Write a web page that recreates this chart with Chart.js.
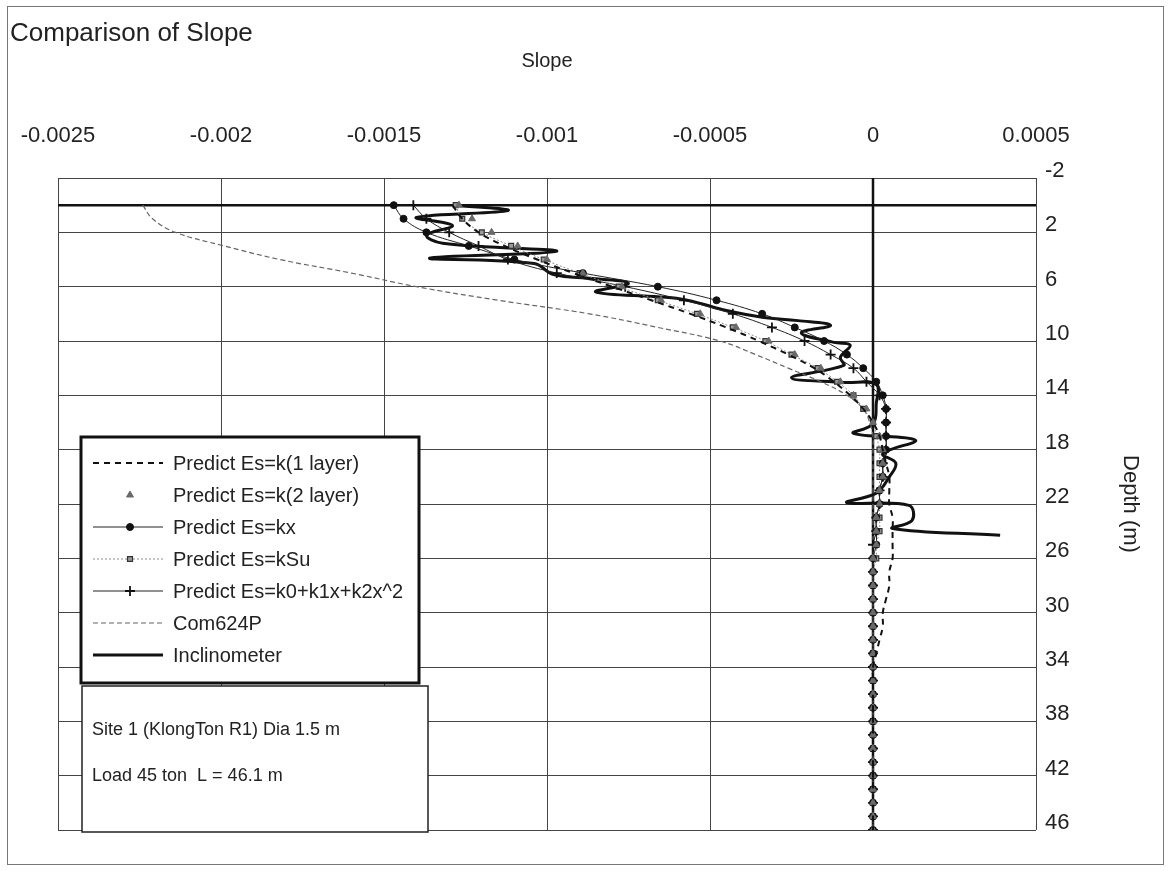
<!DOCTYPE html>
<html>
<head>
<meta charset="utf-8">
<script src="https://cdn.jsdelivr.net/npm/chart.js@4.4.1/dist/chart.umd.min.js"></script>
<style>
  html, body { margin: 0; padding: 0; background: #ffffff; }
  #wrap { position: relative; width: 1169px; height: 871px; }
</style>
</head>
<body>
<div id="wrap"><canvas id="c"></canvas></div>
<script>
// ---------- DATA ----------
const chartTitle = 'Comparison of Slope';
const xAxisTitle = 'Slope';
const yAxisTitle = 'Depth (m)';
const xTickValues = [-0.0025, -0.002, -0.0015, -0.001, -0.0005, 0, 0.0005];
const xTickLabels = ['-0.0025', '-0.002', '-0.0015', '-0.001', '-0.0005', '0', '0.0005'];
const yTickValues = [-2, 2, 6, 10, 14, 18, 22, 26, 30, 34, 38, 42, 46];
const yTickLabels = ['-2', '2', '6', '10', '14', '18', '22', '26', '30', '34', '38', '42', '46'];
const infoLines = ['Site 1 (KlongTon R1) Dia 1.5 m', 'Load 45 ton  L = 46.1 m'];

const seriesNames = [
  'Predict Es=k(1 layer)',
  'Predict Es=k(2 layer)',
  'Predict Es=kx',
  'Predict Es=kSu',
  'Predict Es=k0+k1x+k2x^2',
  'Com624P',
  'Inclinometer'
];

// depth (m) of predicted values
const depths = [0,1,2,3,4,5,6,7,8,9,10,11,12,13,14,15,16,17,18,19,20,21,22,23,24,25,26,27,28,29,30,31,32,33,34,35,36,37,38,39,40,41,42,43,44,45,46];

const slopeK1Layer = [
  -0.00129,-0.00126,-0.00121,-0.00113,-0.00103,-0.00092,-0.00080,-0.00068,-0.00056,-0.00045,
  -0.00035,-0.00026,-0.00018,-0.00012,-0.00007,-0.00003,0.00000,0.00002,0.00003,0.00004,
  0.00005,0.00005,0.00005,0.00006,0.00006,0.00006,0.00006,0.00005,0.00005,0.00004,
  0.00003,0.00003,0.00002,0.00001,0,0,0,0,0,0,
  0,0,0,0,0,0,0];
const slopeK2Layer = [
  -0.00127,-0.00123,-0.00117,-0.00109,-0.00100,-0.00089,-0.00077,-0.00065,-0.00053,-0.00042,
  -0.00032,-0.00024,-0.00016,-0.00010,-0.00006,-0.00002,0.00000,0.00002,0.00003,0.00003,
  0.00003,0.00002,0.00002,0.00001,0.00001,0.00001,0,0,0,0,
  0,0,0,0,0,0,0,0,0,0,
  0,0,0,0,0,0,0];
const slopeKx = [
  -0.00147,-0.00144,-0.00137,-0.00124,-0.00110,-0.00089,-0.00066,-0.00048,-0.00034,-0.00024,
  -0.00015,-0.00008,-0.00003,0.00001,0.00003,0.00004,0.00004,0.00004,0.00004,0.00003,
  0.00003,0.00002,0.00002,0.00001,0.00001,0.00001,0,0,0,0,
  0,0,0,0,0,0,0,0,0,0,
  0,0,0,0,0,0,0];
const slopeKSu = [
  -0.00128,-0.00126,-0.00120,-0.00111,-0.00101,-0.00090,-0.00078,-0.00066,-0.00054,-0.00043,
  -0.00033,-0.00025,-0.00017,-0.00011,-0.00006,-0.00003,0.00000,0.00001,0.00002,0.00002,
  0.00002,0.00002,0.00002,0.00002,0.00002,0.00001,0.00001,0,0,0,
  0,0,0,0,0,0,0,0,0,0,
  0,0,0,0,0,0,0];
const slopeKPoly = [
  -0.00141,-0.00137,-0.00130,-0.00121,-0.00112,-0.00097,-0.00076,-0.00058,-0.00043,-0.00031,
  -0.00021,-0.00013,-0.00006,-0.00002,0.00002,0.00004,0.00004,0.00004,0.00004,0.00003,
  0.00003,0.00002,0.00002,0.00001,0.00001,0,0,0,0,0,
  0,0,0,0,0,0,0,0,0,0,
  0,0,0,0,0,0,0];
const slopeCom624P = [
  -0.00224,-0.00221,-0.00214,-0.00199,-0.00182,-0.00160,-0.00140,-0.00115,-0.00087,-0.00066,
  -0.00047,-0.00036,-0.00026,-0.00016,-0.00008,-0.00003,-0.00001,0,0,0,
  0,0,0,0,0,0,0,0,0,0,
  0,0,0,0,0,0,0,0,0,0,
  0,0,0,0,0,0,0];

// Inclinometer measurement (its own depths)
const inclDepth = [0.0,0.4,0.9,1.5,2.2,2.8,3.4,3.9,4.3,5.1,5.4,5.75,6.4,6.9,7.7,8.25,8.5,8.85,9.4,10.1,10.3,11.2,11.8,12.7,13.05,13.2,14.6,16.1,16.8,17.3,18.3,19.0,20.0,21.2,21.9,22.1,23.2,23.8,24.3];
const inclSlope = [-0.00128,-0.00112,-0.00140,-0.00129,-0.00137,-0.00132,-0.00097,-0.00136,-0.00104,-0.00098,-0.00086,-0.00075,-0.00085,-0.00059,-0.00046,-0.00034,-0.00023,-0.00013,-0.00022,-0.00012,-0.00007,-0.00010,-0.00009,-0.00025,-0.00009,0.00001,0.00001,0.00000,-0.00006,0.00013,0.00003,0.00007,0.00005,0.00001,-0.00008,0.00011,0.00012,0.00006,0.00039];

// ---------- BUILD ----------
const pts = (xs, ys) => xs.map((v, i) => ({x: v, y: ys[i]}));
const labelFor = (vals, labels, v) => {
  const i = vals.findIndex(t => Math.abs(t - v) < 1e-9);
  return i >= 0 ? labels[i] : '';
};

const datasets = [
  { label: seriesNames[0], data: pts(slopeK1Layer, depths), showLine: true,
    borderColor: '#111', borderWidth: 2, borderDash: [6, 5], pointRadius: 0, tension: 0.4 },
  { label: seriesNames[1], data: pts(slopeK2Layer, depths), showLine: false,
    pointStyle: 'triangle', pointRadius: 4, pointBackgroundColor: '#6a6a6a', pointBorderColor: '#6a6a6a', pointBorderWidth: 1 },
  { label: seriesNames[2], data: pts(slopeKx, depths), showLine: true,
    borderColor: '#222', borderWidth: 1, pointStyle: 'circle', pointRadius: 3.5,
    pointBackgroundColor: '#111', pointBorderColor: '#111', pointBorderWidth: 1, tension: 0.4 },
  { label: seriesNames[3], data: pts(slopeKSu, depths), showLine: true,
    borderColor: '#8a8a8a', borderWidth: 1, borderDash: [2, 2], pointStyle: 'rect', pointRadius: 3.5,
    pointBackgroundColor: '#9a9a9a', pointBorderColor: '#333', pointBorderWidth: 1.2, tension: 0.4 },
  { label: seriesNames[4], data: pts(slopeKPoly, depths), showLine: true,
    borderColor: '#222', borderWidth: 1, pointStyle: 'cross', pointRadius: 5,
    pointBackgroundColor: '#111', pointBorderColor: '#111', pointBorderWidth: 1.8, tension: 0.4 },
  { label: seriesNames[5], data: pts(slopeCom624P, depths), showLine: true,
    borderColor: '#666', borderWidth: 1.2, borderDash: [5, 3], pointRadius: 0, tension: 0.4 },
  { label: seriesNames[6], data: pts(inclSlope, inclDepth), showLine: true,
    borderColor: '#111', borderWidth: 3, pointRadius: 0, tension: 0.4 }
];

const FONT = 'Liberation Sans, Arial, sans-serif';

// zero axis lines, legend box, info box, outer frame
const decorPlugin = {
  id: 'decor',
  beforeDatasetsDraw(chart) {
    const {ctx, chartArea: a, scales: {x, y}} = chart;
    ctx.save();
    ctx.strokeStyle = '#111';
    ctx.lineWidth = 2.5;
    const x0 = x.getPixelForValue(0);
    const y0 = y.getPixelForValue(0);
    ctx.beginPath();
    ctx.moveTo(x0, a.top); ctx.lineTo(x0, a.bottom);
    ctx.moveTo(a.left, y0); ctx.lineTo(a.right, y0);
    ctx.stroke();
    ctx.restore();
  },
  afterDraw(chart) {
    const ctx = chart.ctx;
    ctx.save();
    // outer frame
    ctx.strokeStyle = '#777';
    ctx.lineWidth = 1;
    ctx.strokeRect(7.5, 6.5, 1156, 858);

    // legend box
    const L = {l: 81, t: 437, r: 419, b: 683};
    ctx.fillStyle = '#fff';
    ctx.fillRect(L.l, L.t, L.r - L.l, L.b - L.t);
    ctx.strokeStyle = '#111';
    ctx.lineWidth = 3;
    ctx.strokeRect(L.l, L.t, L.r - L.l, L.b - L.t);
    ctx.font = '20px ' + FONT;
    ctx.textBaseline = 'middle';
    ctx.textAlign = 'left';
    chart.data.datasets.forEach((ds, i) => {
      const yy = 463 + i * 32;
      if (ds.showLine) {
        ctx.save();
        ctx.strokeStyle = ds.borderColor;
        ctx.lineWidth = ds.borderWidth;
        ctx.setLineDash(ds.borderDash || []);
        ctx.beginPath();
        ctx.moveTo(93, yy); ctx.lineTo(163, yy);
        ctx.stroke();
        ctx.restore();
      }
      if (ds.pointRadius > 0) {
        ctx.save();
        ctx.fillStyle = ds.pointBackgroundColor;
        ctx.strokeStyle = ds.pointBorderColor;
        ctx.lineWidth = ds.pointBorderWidth || 1;
        Chart.helpers.drawPoint(ctx, {pointStyle: ds.pointStyle, radius: ds.pointRadius, rotation: 0, borderWidth: ds.pointBorderWidth || 1}, 130, yy);
        ctx.restore();
      }
      ctx.fillStyle = '#222';
      ctx.fillText(ds.label, 173, yy + 1);
    });

    // info box
    const B = {l: 82, t: 686, r: 428, b: 832};
    ctx.fillStyle = '#fff';
    ctx.fillRect(B.l, B.t, B.r - B.l, B.b - B.t);
    ctx.strokeStyle = '#222';
    ctx.lineWidth = 1.5;
    ctx.strokeRect(B.l, B.t, B.r - B.l, B.b - B.t);
    ctx.fillStyle = '#222';
    ctx.font = '18px ' + FONT;
    ctx.fillText(infoLines[0], 92, 730);
    ctx.fillText(infoLines[1], 92, 776);
    ctx.restore();
  }
};

new Chart(document.getElementById('c'), {
  type: 'scatter',
  data: { datasets },
  plugins: [decorPlugin],
  options: {
    responsive: true,
    maintainAspectRatio: false,
    devicePixelRatio: 1,
    animation: false,
    layout: { padding: { left: 10, right: 0, top: 18, bottom: 41 } },
    plugins: {
      legend: { display: false },
      tooltip: { enabled: false },
      title: {
        display: true, text: chartTitle, align: 'start', color: '#222',
        font: { family: FONT, size: 26, weight: 'normal' },
        padding: { top: 0, bottom: 0 }
      }
    },
    scales: {
      x: {
        type: 'linear', position: 'top',
        min: -0.0025, max: 0.0005,
        afterFit(s) { s.height = 178 - 18 - 31.2; },
        ticks: {
          stepSize: 0.0005, padding: 3, color: '#222',
          font: { family: FONT, size: 22 },
          callback: v => labelFor(xTickValues, xTickLabels, v)
        },
        grid: { color: '#444', lineWidth: 1, drawTicks: true, tickLength: 26, tickColor: 'rgba(0,0,0,0)' },
        border: { display: false },
        title: { display: true, text: xAxisTitle, color: '#222',
          font: { family: FONT, size: 20 }, padding: { top: 0, bottom: 0 } }
      },
      y: {
        type: 'linear', position: 'right', reverse: true,
        min: -2, max: 46,
        afterFit(s) { s.width = 133; },
        ticks: {
          stepSize: 4, padding: 9, color: '#222', labelOffset: -7,
          font: { family: FONT, size: 22 },
          callback: v => labelFor(yTickValues, yTickLabels, v)
        },
        grid: { color: '#444', lineWidth: 1, drawTicks: false },
        border: { display: false },
        title: { display: true, text: yAxisTitle, color: '#222',
          font: { family: FONT, size: 22 }, padding: { top: 26, bottom: 0 } }
      },
      left: {
        type: 'linear', position: 'left', display: true,
        afterFit(s) { s.width = 48; },
        ticks: { display: false },
        grid: { display: false },
        border: { display: false }
      }
    }
  }
});
</script>
</body>
</html>
